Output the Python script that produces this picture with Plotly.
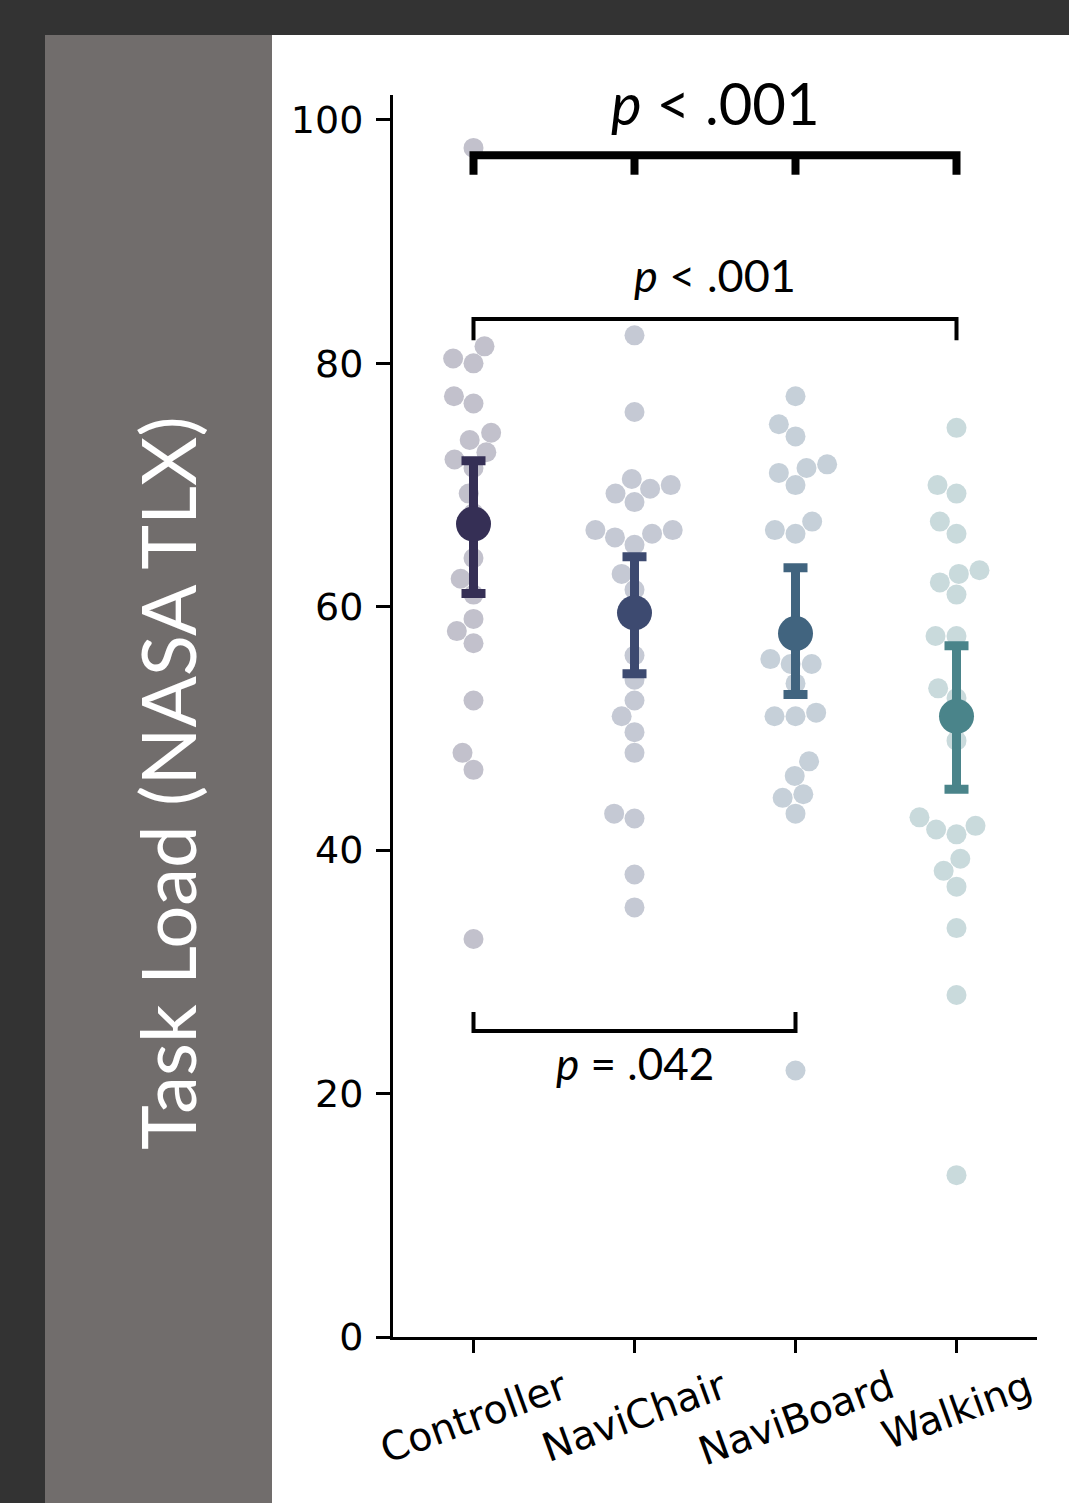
import numpy as np
import plotly.graph_objects as go

# ---------------- data ----------------
categories = ["Controller", "NaviChair", "NaviBoard", "Walking"]

controller = [97.7, 81.4, 80.4, 80.0, 77.3, 76.7, 74.3, 73.7, 72.7, 72.1, 71.4,
              69.3, 67.7, 64.0, 62.3, 61.0, 59.0, 58.0, 57.0, 52.3, 48.0, 46.6, 32.7]
navichair = [82.3, 76.0, 70.5, 69.3, 69.7, 70.0, 68.6, 66.3, 65.7, 66.0, 66.3, 65.1,
             62.7, 61.4, 56.0, 54.0, 52.3, 51.0, 49.7, 48.0, 43.0, 42.6, 38.0, 35.3]
naviboard = [77.3, 75.0, 74.0, 71.0, 71.4, 71.7, 70.0, 66.3, 66.0, 67.0, 55.3, 55.3,
             55.7, 53.7, 51.0, 51.0, 51.3, 47.3, 46.1, 44.3, 44.6, 43.0, 21.9]
walking = [74.7, 69.3, 70.0, 67.0, 66.0, 62.0, 62.7, 63.0, 61.0, 57.6, 57.6, 53.3,
           52.5, 49.0, 42.0, 41.3, 41.7, 42.7, 39.3, 38.3, 37.0, 33.6, 28.1, 13.3]

means = [66.8, 59.5, 57.8, 51.0]
ci_upper = [72.0, 64.1, 63.2, 56.8]
ci_lower = [61.1, 54.5, 52.8, 45.0]

y_ticks = [0, 20, 40, 60, 80, 100]
p_labels = ["<i>p</i> &lt; .001", "<i>p</i> &lt; .001", "<i>p</i> = .042"]

# ---------------- layout constants ----------------
W, H = 1069, 1503
L, R, T, B = 393, 32, 95, 166
PW, PH = W - L - R, H - T - B
Y_MAX = 102.05
X_RANGE = [-0.5, 3.5]
PX_PER_Y = PH / Y_MAX
PX_PER_X = PW / (X_RANGE[1] - X_RANGE[0])

mean_colors = ["#352f55", "#3d4a70", "#41647f", "#4a848a"]


def blend(hexc, a=0.3):
    h = hexc.lstrip("#")
    r, g, b = (int(h[i:i + 2], 16) for i in (0, 2, 4))
    return "rgb(%d,%d,%d)" % tuple(round(255 * (1 - a) + c * a) for c in (r, g, b))


dot_colors = [blend(c) for c in mean_colors]

DOT_D = 20  # px


def beeswarm(values, r=DOT_D / 2):
    """seaborn-style swarm in pixel space; returns x offsets in px"""
    ys = np.asarray(values, float) * PX_PER_Y
    order = np.argsort(ys, kind="stable")
    pts = np.column_stack([np.zeros(len(ys)), ys[order], np.full(len(ys), r)])
    swarm = [pts[0]]
    for p in pts[1:]:
        x_i, y_i, r_i = p
        neigh = []
        for q in reversed(swarm):
            if (y_i - q[1]) < (r_i + q[2]):
                neigh.append(q)
            else:
                break
        cands = [p]
        left_first = True
        for q in neigh:
            dy = y_i - q[1]
            dx = np.sqrt(max((r_i + q[2]) ** 2 - dy ** 2, 0)) * 1.05
            cl = np.array([q[0] - dx, y_i, r_i])
            cr = np.array([q[0] + dx, y_i, r_i])
            cands.extend([cl, cr] if left_first else [cr, cl])
            left_first = not left_first
        cands = np.array(cands)
        cands = cands[np.argsort(np.abs(cands[:, 0]), kind="stable")]
        chosen = cands[0]
        if neigh:
            nb = np.array(neigh)
            for c in cands:
                d2 = (nb[:, 0] - c[0]) ** 2 + (nb[:, 1] - c[1]) ** 2
                if np.all(d2 >= (nb[:, 2] + c[2]) ** 2 - 1e-9):
                    chosen = c
                    break
        swarm.append(chosen)
    swarm = np.array(swarm)
    offs = np.empty(len(ys))
    offs[order] = swarm[:, 0]
    return offs


fig = go.Figure()

groups = [controller, navichair, naviboard, walking]
for i, vals in enumerate(groups):
    offs = beeswarm(vals) / PX_PER_X
    fig.add_trace(go.Scatter(
        x=i + offs, y=vals, mode="markers",
        marker=dict(size=DOT_D, color=dot_colors[i], line=dict(width=0)),
        showlegend=False, hoverinfo="y", cliponaxis=False))

for i in range(4):
    fig.add_trace(go.Scatter(
        x=[i], y=[means[i]], mode="markers",
        marker=dict(size=35, color=mean_colors[i], line=dict(width=0)),
        error_y=dict(type="data", symmetric=False,
                     array=[ci_upper[i] - means[i]],
                     arrayminus=[means[i] - ci_lower[i]],
                     color=mean_colors[i], thickness=9, width=12),
        showlegend=False, cliponaxis=False))

# ---------------- background panels ----------------
def px_to_paper_x(px):
    return (px - L) / PW


def px_to_paper_y(py):
    return (H - B - py) / PH


shapes = [
    dict(type="rect", xref="paper", yref="paper", layer="below",
         x0=px_to_paper_x(45), x1=px_to_paper_x(272),
         y0=px_to_paper_y(H + 5), y1=px_to_paper_y(35),
         fillcolor="#716d6c", line=dict(width=0)),
    dict(type="rect", xref="paper", yref="paper", layer="below",
         x0=px_to_paper_x(272), x1=px_to_paper_x(W + 5),
         y0=px_to_paper_y(H + 5), y1=px_to_paper_y(35),
         fillcolor="white", line=dict(width=0)),
]

# ---------------- significance brackets ----------------
top_y, top_tip = 97.1, 95.5
shapes.append(dict(type="path", xref="x", yref="y",
                   path=f"M 0,{top_tip} L 0,{top_y} L 3,{top_y} L 3,{top_tip}",
                   line=dict(color="black", width=8)))
for k in (1, 2):
    shapes.append(dict(type="line", xref="x", yref="y", x0=k, x1=k,
                       y0=top_y, y1=top_tip, line=dict(color="black", width=8)))
mid_y, mid_tip = 83.65, 81.9
shapes.append(dict(type="path", xref="x", yref="y",
                   path=f"M 0,{mid_tip} L 0,{mid_y} L 3,{mid_y} L 3,{mid_tip}",
                   line=dict(color="black", width=4)))
low_y, low_tip = 25.15, 26.7
shapes.append(dict(type="path", xref="x", yref="y",
                   path=f"M 0,{low_tip} L 0,{low_y} L 2,{low_y} L 2,{low_tip}",
                   line=dict(color="black", width=4)))

annotations = [
    dict(x=1.5, y=101.4, xref="x", yref="y", text=p_labels[0], showarrow=False,
         font=dict(family="Lato", size=58, color="black"), xanchor="center", yanchor="middle"),
    dict(x=1.5, y=87.3, xref="x", yref="y", text=p_labels[1], showarrow=False,
         font=dict(family="Lato", size=45, color="black"), xanchor="center", yanchor="middle"),
    dict(x=1.0, y=22.5, xref="x", yref="y", text=p_labels[2], showarrow=False,
         font=dict(family="Lato", size=44, color="black"), xanchor="center", yanchor="middle"),
    dict(x=px_to_paper_x(166), y=px_to_paper_y(783), xref="paper", yref="paper",
         text="Task Load (NASA TLX)", textangle=-90, showarrow=False,
         font=dict(family="Lato", size=76, color="white"), xanchor="center", yanchor="middle"),
]
for i, c in enumerate(categories):
    annotations.append(dict(x=i, y=px_to_paper_y(1359), xref="x", yref="paper",
                            text=c, textangle=-20, showarrow=False,
                            font=dict(family="DejaVu Sans", size=39.5, color="black"),
                            xanchor="center", yanchor="top"))

fig.update_layout(
    width=W, height=H,
    margin=dict(l=L, r=R, t=T, b=B, pad=0),
    paper_bgcolor="#333333", plot_bgcolor="white",
    shapes=shapes, annotations=annotations,
    xaxis=dict(range=X_RANGE, tickvals=[0, 1, 2, 3], showticklabels=False,
               ticks="outside", ticklen=13, tickwidth=3, tickcolor="black",
               showline=True, linecolor="black", linewidth=3,
               showgrid=False, zeroline=False, fixedrange=True),
    yaxis=dict(range=[0, Y_MAX], tickvals=y_ticks, ticks="outside", ticklen=14,
               tickwidth=3, tickcolor="black", showline=True, linecolor="black",
               linewidth=3, showgrid=False, zeroline=False, ticklabelstandoff=5,
               tickfont=dict(family="DejaVu Sans", size=38, color="black"),
               fixedrange=True),
    showlegend=False,
)

fig.write_html("out.html", config={"displayModeBar": False},
               post_script="document.body.style.margin='0';document.body.style.overflow='hidden';")
